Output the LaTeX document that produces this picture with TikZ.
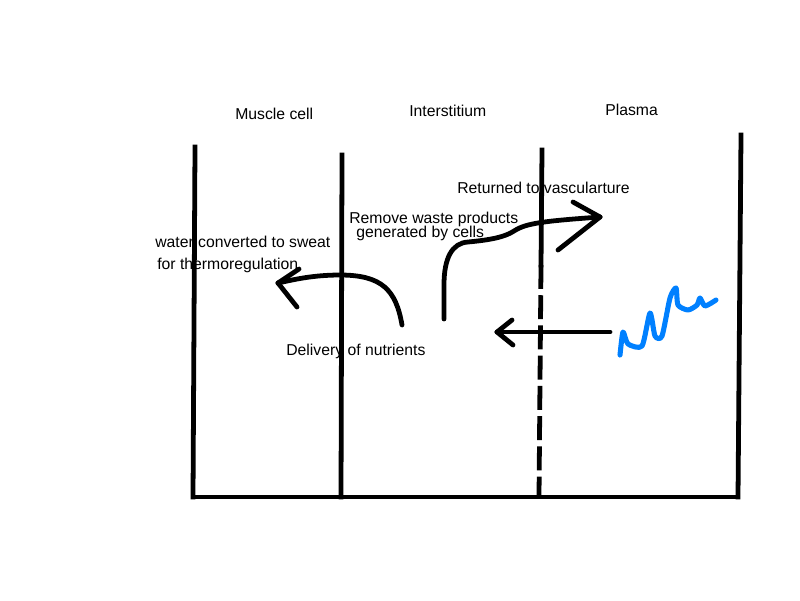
\documentclass[tikz,border=0pt]{standalone}
\usepackage{fontspec}
\setmainfont{Liberation Sans}
\usepackage{tikz}
\usepackage{xcolor}
\usetikzlibrary{arrows.meta,positioning,calc}
\definecolor{PenBlue}{RGB}{0,128,255}
\tikzset{
  wall/.style={line width=3.4pt, line cap=rect},
  stroke/.style={line width=3.4pt, line cap=round, line join=round},
  barb/.style={line width=3.4pt, line cap=round},
  squiggle/.style={line width=3.6pt, color=PenBlue, line cap=round, line join=round},
  label/.style={font=\fontsize{11.2}{13}\selectfont, inner sep=0pt, anchor=base west},
}

\begin{document}
\begin{tikzpicture}[x=0.025cm, y=-0.025cm]
      \useasboundingbox (0,0) rectangle (800,600);

      % compartment walls
      \coordinate (w0t) at (195,147);
      \coordinate (w0b) at (193,497);
      \coordinate (w1t) at (342,155);
      \coordinate (w1b) at (341,497);
      \coordinate (w2t) at (542,150);
      \coordinate (w2m) at (541,265);
      \coordinate (w2b) at (539,497);
      \coordinate (w3t) at (741,135);
      \coordinate (w3b) at (738,497);

      \draw[wall] (w0t)--(w0b);
      \draw[wall] (w1t)--(w1b);
      \draw[wall] (w2t)--(w2m);
      \draw[line width=3.4pt, dash pattern=on 17pt off 4.5pt] (w2m)--(w2b);
      \draw[wall] (w3t)--(w3b);
      \draw[wall] (w0b)--(w3b);

      % headings
      \node[label] (muscle) at (235,119) {Muscle cell};
      \node[label] (inter) at (409,116) {Interstitium};
      \node[label] (plasma) at (605,115) {Plasma};

      % texts
      \node[label] (sweat1) at (155,247) {water converted to sweat};
      \node[label] (sweat2) at (157,269) {for thermoregulation};
      \node[label] (deliv) at (286,355) {Delivery of nutrients};
      \node[label] (waste1) at (349,223) {Remove waste products};
      \node[label] (waste2) at (356,237) {generated by cells};
      \node[label] (ret) at (457,193) {Returned to vascularture};

      % delivery arrow
      \coordinate (d0) at (402,325);
      \coordinate (d1) at (278,283);
      \draw[stroke] (d0) .. controls (396,290) and (382,275) .. (340,275)
                         .. controls (312,275) and (292,280) .. (d1);
      \draw[barb] (d1)--(299,269);
      \draw[barb] (d1)--(297,307);

      % waste arrow
      \coordinate (r0) at (444,319);
      \coordinate (r1) at (600,217);
      \draw[stroke] (r0)--(444,285) .. controls (444,258) and (452,243) .. (468,242)
                         .. controls (490,240) and (505,237) .. (514,231)
                         .. controls (526,223) and (545,221) .. (r1);
      \draw[barb] (r1)--(573,202);
      \draw[barb] (r1)--(558,250);

      % plasma to interstitium arrow
      \coordinate (p0) at (610,332);
      \coordinate (p1) at (497,332);
      \draw[stroke] (p0)--(p1);
      \draw[barb] (p1)--(512,320);
      \draw[barb] (p1)--(513,345);

      % blue scribble
      \draw[squiggle] plot[smooth, tension=0.4] coordinates {(620,355) (623,332) (628,344) (642,346)
        (650,313) (655,336) (662,336) (670,298) (676,288) (678,305) (688,310)
        (697,305) (700,298) (705,306) (716,300)};
\end{tikzpicture}
\end{document}
